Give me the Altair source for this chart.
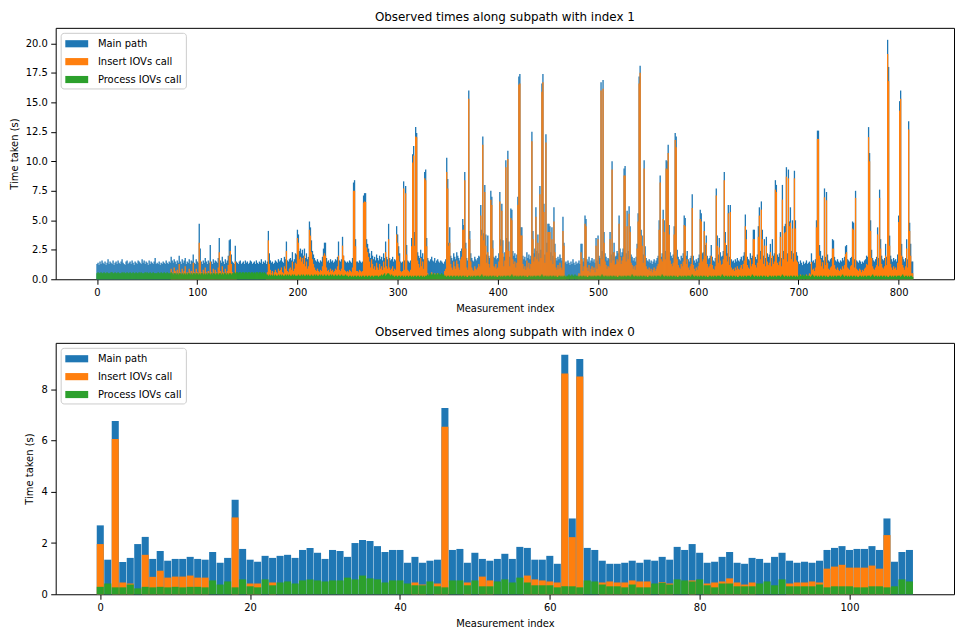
import altair as alt
import pandas as pd

SERIES = ["Main path", "Insert IOVs call", "Process IOVs call"]
COLORS = ["#1f77b4", "#ff7f0e", "#2ca02c"]

# ---------------- subpath index 1 (815 measurements) ----------------
main_1 = [
1.3,1.4,1.2,1.5,1.3,1.6,1.4,1.3,1.5,1.2,
1.4,1.7,1.3,1.5,1.4,1.3,1.6,1.2,1.4,1.5,
1.3,1.6,1.4,1.3,1.5,1.7,1.4,1.3,1.2,1.5,
1.6,1.3,1.4,1.5,1.3,1.6,1.4,1.2,1.5,1.4,
1.3,1.6,1.5,1.4,1.3,1.7,1.4,1.6,1.3,1.5,
1.4,1.2,1.6,1.3,1.5,1.4,1.3,1.5,1.8,1.3,
1.4,1.3,1.5,1.2,1.4,1.3,1.5,1.4,1.3,1.6,
1.4,1.3,1.5,1.4,1.9,1.6,1.4,1.7,1.5,1.3,
1.6,1.4,2.0,1.5,1.3,1.7,1.4,1.6,1.8,1.3,
1.5,1.4,1.7,1.3,1.6,1.5,2.1,1.4,1.3,1.7,
1.5,1.4,4.7,2.6,1.5,1.3,1.6,1.4,1.8,1.5,
1.3,1.6,1.4,2.9,1.5,1.3,1.7,1.4,1.6,1.5,
1.4,1.8,3.5,1.6,1.4,1.9,1.5,1.3,1.7,1.4,
1.6,2.0,3.3,3.4,2.1,1.5,1.4,1.3,2.85,1.5,
1.4,1.3,1.5,1.6,1.3,1.4,1.5,1.3,1.6,1.4,
1.5,1.3,1.4,1.6,1.5,1.3,1.4,1.5,1.3,1.6,
1.4,1.3,1.5,1.4,1.7,1.3,1.5,1.4,1.6,1.3,
1.5,4.1,2.2,1.6,1.4,1.5,1.3,1.4,1.6,1.5,
1.4,1.7,1.5,1.6,1.8,1.5,1.4,1.9,1.7,3.2,
1.6,1.5,1.7,1.8,1.6,2.3,1.5,1.7,2.2,2.1,
4.2,3.8,2.4,2.6,2.2,2.5,2.0,2.6,1.8,2.2,
1.7,1.9,4.9,4.4,3.3,2.4,2.1,1.8,1.6,1.5,
1.7,1.5,1.4,1.6,1.5,1.9,2.6,3.1,3.1,1.8,
1.5,1.6,1.4,1.7,1.5,1.6,1.4,1.5,1.7,1.6,
1.9,3.2,1.6,1.5,1.7,3.6,2.0,1.6,1.5,1.4,
1.5,1.4,1.6,1.5,1.4,1.8,8.2,8.4,3.4,1.5,
1.5,1.4,1.6,1.5,1.4,1.5,7.1,7.3,7.3,3.4,
3.0,2.6,2.2,1.8,2.4,2.0,1.7,1.9,1.6,2.1,
1.8,1.6,2.0,1.7,1.9,1.6,2.2,1.8,3.2,1.9,
1.7,4.7,1.8,1.6,1.7,1.9,1.5,1.7,1.6,4.5,
3.8,2.8,2.2,1.5,1.4,1.5,8.3,1.6,7.9,2.9,
1.6,1.5,1.4,1.6,3.5,10.6,11.3,4.0,12.9,12.4,
2.3,2.0,1.8,2.5,1.9,2.2,1.7,9.1,9.3,3.5,
1.8,1.6,1.5,1.7,1.9,1.6,1.5,1.8,1.4,1.6,
1.7,1.5,1.4,1.6,1.5,1.4,1.3,1.5,1.7,10.3,
8.5,3.1,4.4,2.0,1.8,1.6,2.2,1.9,1.7,2.3,
2.0,1.8,1.6,2.4,2.6,5.1,4.6,9.1,3.1,1.8,
1.6,16.0,4.1,2.2,1.8,1.6,1.5,1.9,1.7,1.6,
1.8,2.0,1.9,6.3,4.2,12.1,3.9,8.0,3.8,2.1,
3.7,2.0,1.8,7.5,7.0,3.3,1.9,1.8,2.0,1.7,
1.8,2.2,7.4,3.4,6.4,3.3,1.9,2.3,10.1,3.5,
10.9,3.2,1.9,6.0,5.9,2.4,2.0,2.2,1.8,2.1,
7.0,17.2,17.4,4.4,4.4,2.0,1.7,1.9,1.6,2.3,
1.8,2.1,1.7,2.0,12.5,4.1,2.2,2.6,6.1,2.4,
3.8,2.2,7.9,2.5,16.6,17.4,6.4,2.1,12.3,3.1,
4.7,4.7,4.5,2.3,4.4,2.0,6.1,3.0,1.8,1.6,
1.9,1.7,2.1,1.8,1.6,5.3,3.1,1.4,1.5,1.3,
1.6,1.4,1.2,1.5,1.3,1.7,1.4,1.2,1.5,1.3,
1.4,1.6,1.3,3.0,3.0,1.5,1.8,5.4,5.1,1.7,
1.5,1.9,1.4,1.6,1.8,1.5,1.7,1.4,3.5,1.6,
3.7,2.0,1.8,16.7,2.4,16.9,4.0,2.2,1.9,1.6,
1.8,1.7,4.0,2.1,10.0,2.3,3.1,1.9,2.0,2.4,
2.2,5.4,2.6,2.0,2.3,2.6,9.4,9.6,2.2,5.8,
2.4,6.2,4.5,2.1,1.9,1.6,1.8,1.5,1.9,3.0,
5.6,17.2,18.1,4.2,3.7,2.1,10.1,2.8,1.8,1.6,
1.5,1.7,1.4,1.6,1.3,1.5,1.7,1.4,1.6,1.8,
2.0,5.0,8.8,1.9,2.2,5.9,5.0,2.4,10.1,10.0,
11.4,4.6,2.3,2.0,1.8,2.1,4.5,12.4,12.1,2.5,
1.9,1.7,1.6,2.0,1.8,2.2,5.4,5.2,2.0,2.4,
1.7,1.5,1.8,2.0,7.2,2.0,1.6,1.4,1.7,1.5,
1.8,2.1,5.9,5.6,2.2,2.3,4.9,2.9,3.7,2.0,
1.7,1.8,2.0,2.9,1.9,1.6,1.5,1.8,7.7,3.7,
2.1,3.5,2.3,1.9,2.0,2.4,9.1,4.0,2.9,2.2,
6.3,1.9,6.3,1.7,1.5,1.6,1.4,1.7,1.5,1.8,
1.6,1.5,1.7,1.9,1.6,2.0,2.3,5.5,4.2,1.9,
1.7,1.6,2.2,1.8,2.0,4.2,4.2,1.9,1.7,2.1,
4.5,6.1,2.4,6.6,4.2,2.0,3.4,1.8,3.6,2.2,
1.9,2.1,3.0,1.8,3.4,2.0,2.2,8.4,8.0,2.1,
1.9,2.2,4.0,1.8,8.0,2.4,4.5,4.7,9.5,2.2,
9.3,4.9,6.1,2.4,5.0,2.2,9.2,5.0,2.3,2.0,
1.5,1.3,1.6,1.4,1.2,1.5,1.3,1.4,1.6,1.3,
1.4,1.5,1.3,2.2,1.5,1.6,1.4,1.7,5.0,12.6,
12.6,2.9,2.4,1.8,2.0,1.6,7.7,1.9,7.4,2.1,
1.6,1.5,1.7,1.8,3.4,3.3,1.9,1.6,1.5,1.7,
1.5,1.4,1.6,1.5,1.8,1.6,1.9,2.8,2.9,1.7,
1.6,1.5,1.8,1.9,4.9,4.8,1.7,7.5,1.6,1.5,
1.4,1.6,1.5,1.3,1.5,1.4,1.6,1.7,2.0,1.9,
12.9,10.7,5.0,2.5,1.8,1.6,1.5,1.7,1.9,4.4,
1.8,7.6,3.4,2.0,1.7,1.6,1.8,3.0,1.9,20.3,
18.0,3.7,2.0,1.7,1.5,1.8,1.6,1.7,1.5,2.1,
5.4,15.1,16.0,3.0,1.9,1.7,1.5,1.8,3.4,1.7,
13.4,4.8,3.0,1.5,1.5,
]

insert_1 = [
0,0,0,0,0,0,0,0,0,0,
0,0,0,0,0,0,0,0,0,0,
0,0,0,0,0,0,0,0,0,0,
0,0,0,0,0,0,0,0,0,0,
0,0,0,0,0,0,0,0,0,0,
0,0,0,0,0,0,0,0,0,0,
0,0,0,0,0,0,0,0,0,0,
0,0,0,0,0.9,0.6,0.4,1.0,0.7,0.3,
0.8,0.5,1.3,0.6,0.3,0.9,0.5,0.7,1.1,0.4,
0.6,0.3,0.9,0.4,0.7,0.5,1.4,0.6,0.4,0.9,
0.6,0.5,3.1,1.6,0.6,0.4,0.8,0.5,1.0,0.6,
0.4,0.7,0.5,1.5,0.6,0.4,0.9,0.5,0.8,0.6,
0.5,1.0,2.3,0.7,0.5,1.1,0.6,0.4,0.9,0.5,
0.7,1.2,2.0,2.4,1.3,0.6,0.4,0.3,1.5,0.5,
0,0,0,0,0,0,0,0,0,0,
0,0,0,0,0,0,0,0,0,0,
0,0,0,0,0,0,0,0,0,0.3,
0.6,3.3,1.3,0.8,0.5,0.7,0.4,0.6,0.8,0.6,
0.5,0.9,0.7,0.8,1.0,0.6,0.5,1.1,0.9,2.4,
0.7,0.6,0.9,1.0,0.8,1.5,0.7,0.9,1.4,1.3,
3.5,3.1,1.7,1.9,1.5,1.8,1.3,2.0,1.1,1.5,
0.9,1.1,4.2,3.7,2.3,1.7,1.3,1.0,0.8,0.7,
0.9,0.7,0.6,0.8,0.7,1.1,2.0,2.2,2.0,1.0,
0.7,0.8,0.6,0.9,0.7,0.8,0.6,0.7,0.9,0.8,
1.1,2.0,0.8,0.7,0.9,2.85,2.0,0.8,0.7,0.6,
0.7,0.6,0.8,0.7,0.6,1.0,7.5,7.5,2.8,0.7,
0.7,0.6,0.8,0.7,0.6,0.7,6.5,6.6,6.55,2.7,
2.3,1.9,1.5,1.0,1.7,1.3,0.9,1.1,0.8,1.4,
1.0,0.8,1.3,0.9,1.1,0.8,1.5,1.0,2.3,1.1,
0.9,3.4,1.0,0.8,0.9,1.1,0.7,0.9,0.8,3.8,
3.1,2.0,1.5,0.7,0.6,0.7,7.7,0.8,7.3,2.1,
0.8,0.7,0.6,0.8,2.8,9.9,10.5,2.85,12.1,12.05,
1.6,1.3,1.0,1.8,1.1,1.5,0.9,8.56,8.4,2.8,
0.5,0.3,0.2,0.4,0.6,0.3,0.2,0.5,0.3,0.4,
0.5,0.3,0.2,0.4,0.3,0.2,0.3,0.7,0.9,9.1,
7.7,2.85,3.1,1.3,1.0,0.8,1.5,1.1,0.9,1.6,
1.3,1.0,0.8,1.7,1.9,4.2,4.2,8.4,2.6,1.0,
0.8,15.3,3.4,1.5,1.0,0.8,0.7,1.1,0.9,0.8,
1.0,1.3,1.1,5.4,3.7,11.4,3.3,7.4,2.85,1.4,
2.3,1.3,1.0,6.75,6.3,2.6,1.1,1.0,1.3,0.9,
1.0,1.5,6.6,2.85,5.8,2.2,1.1,1.6,9.5,2.5,
10.2,2.4,1.1,5.2,5.0,1.7,1.3,1.5,1.0,1.4,
6.3,16.5,16.6,3.7,3.7,1.3,0.9,1.1,0.8,1.6,
1.0,1.4,0.9,1.3,11.7,3.4,1.5,1.9,5.3,1.7,
3.1,1.5,7.2,1.8,15.9,16.7,5.7,1.4,11.6,2.3,
4.0,4.0,4.0,1.6,3.4,1.3,4.9,2.3,1.0,0.8,
1.2,0.9,1.4,1.0,0.8,4.1,2.85,0.3,0.2,0,
0.2,0,0,0.3,0,0.2,0,0,0.2,0,
0.3,0.5,0.4,2.3,1.7,0.7,1.1,4.7,4.5,1.0,
0.7,1.2,0.6,0.9,1.1,0.8,1.0,0.6,2.85,0.9,
3.4,1.3,1.1,16.0,1.7,16.15,3.1,1.5,1.2,0.9,
1.1,1.0,3.4,1.4,9.3,1.6,2.3,1.2,1.3,1.7,
1.5,4.7,1.9,1.3,1.6,1.9,8.8,8.8,1.5,4.5,
1.7,5.55,4.0,1.4,1.2,0.9,1.1,0.8,1.2,2.6,
4.9,16.6,17.5,3.7,2.85,1.4,9.4,2.0,1.1,0.9,
0.8,1.0,0.7,0.9,0.6,0.8,1.0,0.7,0.9,1.1,
1.3,4.2,8.2,1.7,1.5,5.1,4.0,1.7,9.4,9.3,
10.7,3.8,1.6,1.3,1.1,1.4,3.8,11.8,11.2,1.7,
1.2,1.0,0.9,1.3,1.1,1.5,4.6,4.5,1.3,1.7,
1.0,0.8,1.1,1.3,6.05,1.2,0.9,0.7,1.0,0.8,
1.1,1.4,5.1,4.9,1.5,1.7,4.1,2.0,3.1,1.3,
1.0,1.1,1.3,2.0,1.2,0.9,0.8,1.1,7.1,2.85,
1.4,2.7,1.6,1.2,1.3,1.7,8.4,3.1,2.0,1.5,
5.6,1.2,5.7,1.0,0.8,0.9,0.7,1.0,0.8,1.1,
0.9,0.8,1.0,1.2,0.9,1.3,1.6,4.5,3.4,1.2,
1.0,0.9,1.7,1.1,1.3,3.4,3.4,1.2,1.0,1.4,
3.6,5.4,1.7,5.9,3.4,1.3,2.85,1.1,2.85,1.5,
1.2,1.4,2.3,1.1,2.0,1.3,1.5,7.6,7.4,1.4,
1.2,1.5,3.6,1.1,6.75,1.7,3.9,4.0,8.7,1.5,
8.56,4.5,4.8,1.7,4.3,1.5,8.56,4.3,1.6,1.45,
0.3,0.2,0.4,0.2,0,0.3,0.2,0,0.4,0.2,
0.3,0.5,0.4,1.45,0.8,0.9,0.7,1.0,4.4,11.9,
11.9,2.0,1.7,1.1,1.45,0.9,6.95,1.2,6.7,1.4,
0.9,0.8,1.0,1.1,2.6,2.6,1.2,0.9,0.8,1.0,
0.8,0.7,0.9,0.8,1.1,0.9,1.2,2.15,2.3,1.0,
0.9,0.8,1.1,1.2,4.3,4.2,1.0,6.9,0.9,0.8,
0.7,0.9,0.8,0.6,0.8,0.7,0.9,1.0,1.3,1.2,
12.05,10.0,4.1,1.8,1.1,0.9,0.8,1.0,1.2,3.8,
1.1,6.9,2.6,1.3,1.0,0.9,1.1,2.0,1.2,19.1,
16.8,2.85,1.3,1.0,0.8,1.1,0.9,1.0,0.8,1.4,
4.85,14.3,15.3,2.0,1.2,1.0,0.8,1.1,2.6,1.0,
12.7,4.1,2.0,0.5,0.5,
]

process_1 = [
0.5,0.6,0.5,0.5,0.6,0.5,0.5,0.6,0.5,0.5,  # 0
0.6,0.5,0.5,0.5,0.6,0.6,0.5,0.5,0.6,0.5,  # 10
0.5,0.6,0.5,0.5,0.5,0.6,0.5,0.6,0.5,0.5,  # 20
0.6,0.5,0.5,0.6,0.5,0.5,0.6,0.5,0.5,0.6,  # 30
0.5,0.5,0.6,0.5,0.6,0.5,0.5,0.5,0.6,0.5,  # 40
0.6,0.5,0.5,0.6,0.5,0.5,0.6,0.5,0.5,0.5,  # 50
0.5,0.6,0.5,0.5,0.6,0.5,0.5,0.6,0.5,0.5,  # 60
0.6,0.5,0.5,0.5,0.6,0.5,0.4,0.5,0.5,0.4,  # 70
0.5,0.4,0.5,0.5,0.4,0.5,0.4,0.5,0.4,0.5,  # 80
0.4,0.5,0.5,0.4,0.5,0.4,0.5,0.5,0.4,0.5,  # 90
0.5,0.4,0.5,0.4,0.5,0.5,0.4,0.5,0.4,0.5,  # 100
0.4,0.5,0.5,0.4,0.5,0.4,0.5,0.5,0.4,0.5,  # 110
0.5,0.4,0.5,0.5,0.4,0.5,0.4,0.5,0.5,0.4,  # 120
0.5,0.4,0.5,0.5,0.4,0.5,0.5,0.6,0.5,0.6,  # 130
0.6,0.5,0.6,0.6,0.5,0.6,0.6,0.5,0.6,0.6,  # 140
0.5,0.6,0.6,0.5,0.6,0.6,0.5,0.6,0.5,0.6,  # 150
0.6,0.5,0.6,0.6,0.5,0.6,0.5,0.6,0.5,0.4,  # 160
0.4,0.3,0.4,0.3,0.4,0.3,0.4,0.3,0.4,0.3,  # 170
0.3,0.4,0.3,0.4,0.3,0.4,0.3,0.3,0.4,0.3,  # 180
0.4,0.3,0.4,0.3,0.3,0.4,0.3,0.4,0.3,0.3,  # 190
0.3,0.4,0.3,0.3,0.4,0.3,0.4,0.3,0.3,0.4,  # 200
0.3,0.4,0.3,0.3,0.4,0.3,0.3,0.4,0.3,0.4,  # 210
0.3,0.3,0.4,0.3,0.4,0.3,0.3,0.4,0.3,0.3,  # 220
0.4,0.3,0.3,0.4,0.3,0.4,0.3,0.3,0.4,0.3,  # 230
0.3,0.4,0.3,0.3,0.4,0.3,0.3,0.3,0.4,0.3,  # 240
0.3,0.2,0.3,0.3,0.2,0.3,0.2,0.3,0.3,0.2,  # 250
0.3,0.3,0.2,0.3,0.2,0.3,0.3,0.2,0.3,0.3,  # 260
0.2,0.3,0.3,0.2,0.3,0.3,0.2,0.3,0.3,0.3,  # 270
0.3,0.2,0.3,0.3,0.4,0.3,0.4,0.5,0.3,0.4,  # 280
0.5,0.5,0.4,0.3,0.4,0.3,0.3,0.2,0.3,0.3,  # 290
0.2,0.3,0.3,0.2,0.3,0.3,0.2,0.3,0.2,0.3,  # 300
0.3,0.2,0.3,0.3,0.2,0.3,0.2,0.3,0.3,0.2,  # 310
0.3,0.3,0.2,0.3,0.3,0.2,0.3,0.2,0.3,0.3,  # 320
0.4,0.3,0.4,0.5,0.4,0.4,0.5,0.4,0.4,0.5,  # 330
0.4,0.5,0.4,0.4,0.5,0.4,0.4,0.3,0.3,0.2,  # 340
0.3,0.3,0.2,0.3,0.3,0.2,0.3,0.3,0.2,0.3,  # 350
0.3,0.2,0.3,0.3,0.2,0.3,0.3,0.2,0.3,0.2,  # 360
0.2,0.3,0.3,0.2,0.3,0.2,0.3,0.3,0.2,0.3,  # 370
0.3,0.3,0.2,0.3,0.4,0.3,0.2,0.3,0.3,0.2,  # 380
0.3,0.2,0.3,0.3,0.2,0.3,0.3,0.2,0.3,0.2,  # 390
0.2,0.3,0.3,0.2,0.3,0.2,0.3,0.3,0.2,0.3,  # 400
0.3,0.3,0.2,0.3,0.4,0.3,0.2,0.3,0.3,0.2,  # 410
0.3,0.2,0.3,0.3,0.2,0.3,0.3,0.2,0.3,0.2,  # 420
0.2,0.3,0.3,0.2,0.3,0.2,0.3,0.3,0.2,0.3,  # 430
0.3,0.3,0.2,0.3,0.4,0.3,0.2,0.3,0.3,0.2,  # 440
0.3,0.2,0.3,0.3,0.2,0.3,0.3,0.2,0.3,0.2,  # 450
0.2,0.3,0.3,0.2,0.3,0.2,0.3,0.3,0.2,0.3,  # 460
0.3,0.4,0.3,0.3,0.4,0.3,0.3,0.4,0.3,0.3,  # 470
0.3,0.2,0.3,0.3,0.2,0.3,0.3,0.2,0.3,0.2,  # 480
0.2,0.3,0.3,0.2,0.3,0.2,0.3,0.3,0.2,0.3,  # 490
0.3,0.3,0.2,0.3,0.4,0.3,0.2,0.3,0.3,0.2,  # 500
0.3,0.2,0.3,0.3,0.2,0.3,0.3,0.2,0.3,0.2,  # 510
0.2,0.3,0.3,0.2,0.3,0.2,0.3,0.3,0.2,0.3,  # 520
0.3,0.3,0.2,0.3,0.4,0.3,0.2,0.3,0.3,0.2,  # 530
0.3,0.2,0.3,0.3,0.2,0.3,0.3,0.2,0.3,0.2,  # 540
0.2,0.3,0.3,0.2,0.3,0.2,0.3,0.3,0.2,0.3,  # 550
0.3,0.3,0.2,0.3,0.4,0.3,0.2,0.3,0.3,0.2,  # 560
0.3,0.2,0.3,0.3,0.2,0.3,0.3,0.2,0.3,0.2,  # 570
0.2,0.3,0.3,0.2,0.3,0.2,0.3,0.3,0.2,0.3,  # 580
0.3,0.3,0.2,0.3,0.4,0.3,0.2,0.3,0.3,0.2,  # 590
0.3,0.2,0.3,0.3,0.2,0.3,0.3,0.2,0.3,0.2,  # 600
0.2,0.3,0.3,0.2,0.3,0.2,0.3,0.3,0.2,0.3,  # 610
0.3,0.3,0.2,0.3,0.4,0.3,0.2,0.3,0.3,0.2,  # 620
0.3,0.2,0.3,0.3,0.2,0.3,0.3,0.2,0.3,0.2,  # 630
0.2,0.3,0.3,0.2,0.3,0.2,0.3,0.3,0.2,0.3,  # 640
0.3,0.3,0.2,0.3,0.4,0.3,0.2,0.3,0.3,0.2,  # 650
0.3,0.2,0.3,0.3,0.2,0.3,0.3,0.2,0.3,0.2,  # 660
0.2,0.3,0.3,0.2,0.3,0.2,0.3,0.3,0.2,0.3,  # 670
0.3,0.3,0.2,0.3,0.4,0.3,0.2,0.3,0.3,0.2,  # 680
0.3,0.2,0.3,0.3,0.2,0.3,0.3,0.2,0.3,0.2,  # 690
0.3,0.4,0.3,0.3,0.4,0.3,0.3,0.4,0.3,0.3,  # 700
0.3,0.3,0.2,0.3,0.4,0.3,0.2,0.3,0.3,0.2,  # 710
0.3,0.2,0.3,0.3,0.2,0.3,0.3,0.2,0.3,0.2,  # 720
0.2,0.3,0.3,0.2,0.3,0.2,0.3,0.3,0.2,0.3,  # 730
0.3,0.3,0.2,0.3,0.4,0.3,0.2,0.3,0.3,0.2,  # 740
0.3,0.2,0.3,0.3,0.2,0.3,0.3,0.2,0.3,0.2,  # 750
0.2,0.3,0.3,0.2,0.3,0.2,0.3,0.3,0.2,0.3,  # 760
0.3,0.3,0.2,0.3,0.4,0.3,0.2,0.3,0.3,0.2,  # 770
0.3,0.2,0.3,0.3,0.2,0.3,0.3,0.2,0.3,0.2,  # 780
0.2,0.3,0.3,0.2,0.3,0.2,0.3,0.3,0.2,0.3,  # 790
0.3,0.3,0.2,0.3,0.4,0.3,0.2,0.3,0.3,0.2,  # 800
0.3,0.2,0.3,0.3,0.2,                      # 810
]

# ---------------- subpath index 0 (109 measurements) ----------------
main_0 = [
2.69,1.35,6.77,1.26,1.42,1.96,2.24,1.38,1.69,1.31,
1.38,1.38,1.46,1.38,1.35,1.65,1.23,1.42,3.69,1.77,
1.35,1.27,1.50,1.42,1.50,1.54,1.42,1.73,1.81,1.62,
1.38,1.73,1.69,1.46,2.00,2.12,2.08,1.88,1.65,1.73,
1.73,1.23,1.46,1.23,1.31,1.35,7.27,1.73,1.77,1.23,
1.62,1.38,1.31,1.38,1.58,1.38,1.85,1.81,1.35,1.35,
1.50,1.19,9.35,2.96,9.19,1.81,1.73,1.31,1.19,1.19,
1.23,1.31,1.23,1.35,1.31,1.46,1.35,1.85,1.73,1.96,
1.62,1.23,1.27,1.46,1.65,1.23,1.19,1.42,1.38,1.23,
1.46,1.62,1.31,1.23,1.27,1.23,1.31,1.73,1.81,1.88,
1.73,1.77,1.77,1.88,1.73,2.96,1.27,1.65,1.73,
]
insert_0 = [
1.96,0,6.06,0.46,0.42,0,1.54,0.68,0.92,0.65,
0.69,0.69,0.73,0.65,0.65,0,0,0,3.00,0,
0.42,0.42,0,0.46,0,0,0,0,0,0,
0,0,0,0,0,0,0,0,0,0,
0,0,0.46,0.38,0,0.42,6.54,0,0,0.46,
0,0.69,0.54,0,0,0,0,0.73,0.58,0.54,
0.50,0.46,8.62,2.23,8.50,0,0,0.46,0.50,0.46,
0.46,0.54,0.50,0.50,0,0.47,0.42,0,0,0.54,
0,0.42,0.46,0.50,0.62,0.46,0.38,0.46,0,0,
0,0,0.42,0.46,0.46,0.50,0.46,1.00,1.08,1.15,
1.04,1.04,1.04,1.12,1.00,2.31,0,0,0,
]
process_0 = [
0.29,0.42,0.27,0.27,0.38,0.23,0.29,0.27,0.29,0.27,
0.29,0.27,0.29,0.29,0.27,0.54,0.38,0.50,0.27,0.58,
0.31,0.27,0.58,0.35,0.46,0.50,0.42,0.54,0.58,0.54,
0.50,0.54,0.54,0.65,0.58,0.73,0.62,0.58,0.46,0.54,
0.54,0.42,0.35,0.35,0.50,0.31,0.27,0.54,0.54,0.35,
0.54,0.31,0.31,0.50,0.58,0.46,0.65,0.46,0.35,0.35,
0.35,0.27,0.31,0.31,0.27,0.54,0.50,0.38,0.31,0.31,
0.27,0.38,0.27,0.27,0.42,0.45,0.38,0.58,0.54,0.50,
0.58,0.35,0.27,0.42,0.42,0.31,0.31,0.31,0.42,0.50,
0.35,0.58,0.31,0.31,0.31,0.31,0.38,0.27,0.31,0.31,
0.31,0.27,0.27,0.31,0.31,0.27,0.31,0.58,0.50,
]

TICKS_X1 = [0, 100, 200, 300, 400, 500, 600, 700, 800]
TICKS_Y1 = [0.0, 2.5, 5.0, 7.5, 10.0, 12.5, 15.0, 17.5, 20.0]
TICKS_X0 = [0, 20, 40, 60, 80, 100]
TICKS_Y0 = [0, 2, 4, 6, 8]

FONT = "DejaVu Sans"
W = 904
H = 253


def long_table(lists):
    rows = []
    for name, vals in zip(SERIES, lists):
        for i, v in enumerate(vals):
            rows.append({"idx": i, "time": v, "series": name})
    return pd.DataFrame(rows)


def panel(df, title, n, xticks, yticks, yfmt, half):
    lo = -0.5 - 0.05 * n
    hi = n - 0.5 + 0.05 * n
    ymax = max(df["time"]) * 1.05
    legend = alt.Legend(
        title=None, orient="top-left", offset=5,
        fillColor="white", strokeColor="#cccccc", cornerRadius=3, padding=3.5,
        symbolType="M-0.88,-0.5L2.32,-0.5L2.32,0.5L-0.88,0.5Z",
        symbolSize=207, symbolStrokeWidth=0, symbolOpacity=1,
        labelFontSize=10, labelFont=FONT, labelColor="black", labelOffset=19,
        rowPadding=5,
    )
    color = alt.Color("series:N", scale=alt.Scale(domain=SERIES, range=COLORS), legend=legend)
    base = alt.Chart(df).transform_calculate(
        x0=f"datum.idx - {half}", x1=f"datum.idx + {half}"
    )
    layers = []
    for s in SERIES:
        layers.append(
            base.transform_filter(alt.datum.series == s).mark_bar(opacity=1).encode(
                x=alt.X("x0:Q", scale=alt.Scale(domain=[lo, hi], nice=False, zero=False),
                        axis=alt.Axis(values=xticks, format="d", title="Measurement index")),
                x2="x1:Q",
                y=alt.Y("time:Q", stack=None, scale=alt.Scale(domain=[0, ymax], nice=False),
                        axis=alt.Axis(values=yticks, format=yfmt, title="Time taken (s)")),
                y2=alt.datum(0),
                color=color,
            )
        )
    return alt.layer(*layers).properties(
        width=W, height=H,
        title=alt.Title(title, fontSize=12, fontWeight="normal", font=FONT, color="black", offset=4),
    )


top = panel(long_table([main_1, insert_1, process_1]),
            "Observed times along subpath with index 1", len(main_1),
            TICKS_X1, TICKS_Y1, ".1f", 0.65)
bottom = panel(long_table([main_0, insert_0, process_0]),
               "Observed times along subpath with index 0", len(main_0),
               TICKS_X0, TICKS_Y0, "d", 0.47)

chart = alt.vconcat(top, bottom, spacing=11).resolve_scale(color="independent").properties(
    padding={"left": 0, "top": 0, "right": 0, "bottom": 0}
).configure(font=FONT).configure_view(
    stroke="black", strokeWidth=1
).configure_axis(
    grid=False, domain=False, tickColor="black", tickSize=5, labelPadding=3.5,
    labelFont=FONT, labelFontSize=10, labelColor="black",
    titleFont=FONT, titleFontSize=10, titleFontWeight="normal", titleColor="black",
    titlePadding=6,
)

chart.save("out.html", embed_options={"renderer": "svg", "actions": False})
